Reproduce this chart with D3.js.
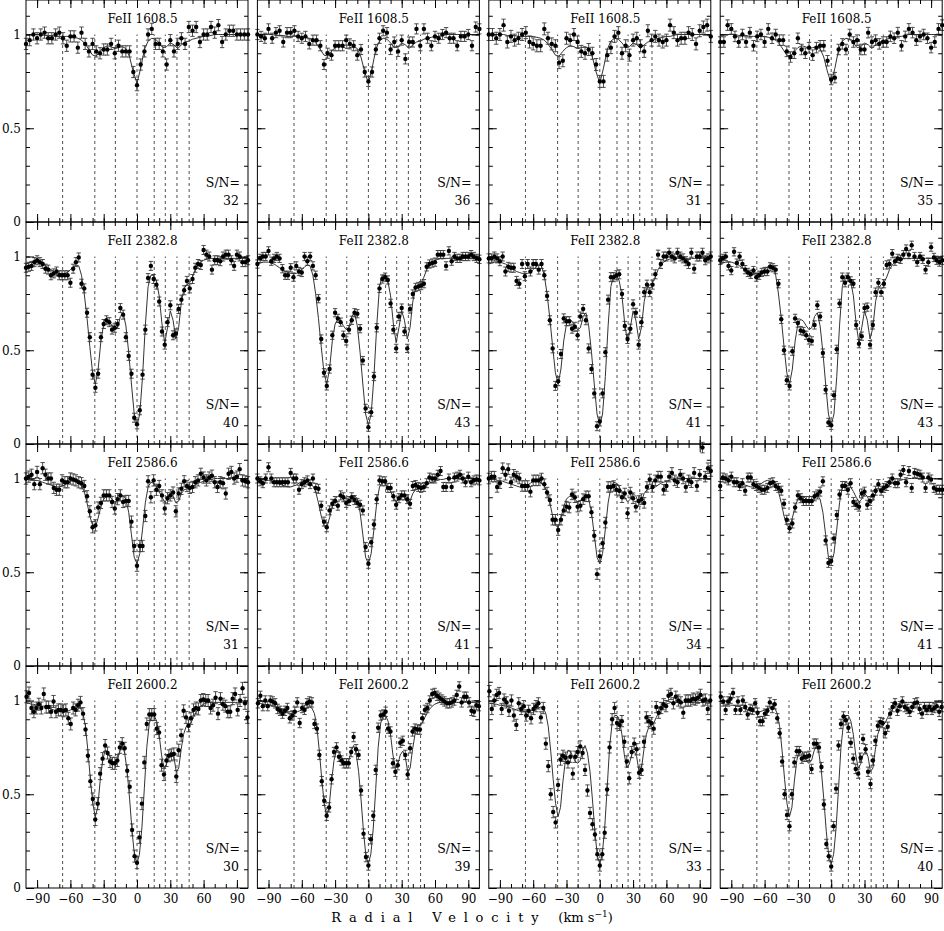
<!DOCTYPE html>
<html><head><meta charset="utf-8">
<script src="https://cdn.jsdelivr.net/npm/d3@7"></script>
<style>
body{margin:0;background:#fff}
svg{display:block}
text{font-family:"DejaVu Serif","Liberation Serif",serif;fill:#000}
</style>
</head><body>
<svg id="chart" width="944" height="931"></svg>
<script>
// ---------------- DATA ----------------
const transitions = ["FeII 1608.5", "FeII 2382.8", "FeII 2586.6", "FeII 2600.2"];
const components = [-67, -38, -19.5, 0, 15.5, 25.5, 36, 47];
const xMajorTicks = [-90, -60, -30, 0, 30, 60, 90];
const xMinorTicks = [-90, -80, -70, -60, -50, -40, -30, -20, -10, 0, 10, 20, 30, 40, 50, 60, 70, 80, 90];
const yMajorTicks = [0, 0.5, 1];
const yMinorTicks = [0, 0.1, 0.2, 0.3, 0.4, 0.5, 0.6, 0.7, 0.8, 0.9, 1, 1.1];

const sn1608 = [32, 36, 31, 35];
const sn2382 = [40, 43, 41, 43];
const sn2586 = [31, 41, 34, 41];
const sn2600 = [30, 39, 33, 40];

const err1608 = [0.030, 0.027, 0.032, 0.028];
const err2382 = [0.024, 0.022, 0.024, 0.022];
const err2586 = [0.030, 0.024, 0.028, 0.024];
const err2600 = [0.032, 0.025, 0.030, 0.025];

const vel1608 = [-100,-96.7,-93.3,-90,-86.7,-83.3,-80,-76.7,-73.3,-70,-66.7,-63.3,-60,-56.7,-53.3,-50,-46.7,-43.3,-40,-36.7,-33.3,-30,-26.7,-23.3,-20,-16.7,-13.3,-10,-6.7,-3.3,0,3.3,6.7,10,13.3,16.7,20,23.3,26.7,30,33.3,36.7,40,43.3,46.7,50,53.3,56.7,60,63.3,66.7,70,73.3,76.7,80,83.3,86.7,90,93.3,96.7,100];
const vel2382 = [-100,-97.5,-95,-92.5,-90,-87.5,-85,-82.5,-80,-77.5,-75,-72.5,-70,-67.5,-65,-62.5,-60,-57.5,-55,-52.5,-50,-47.5,-45,-42.5,-40,-37.5,-35,-32.5,-30,-27.5,-25,-22.5,-20,-17.5,-15,-12.5,-10,-7.5,-5,-2.5,0,2.5,5,7.5,10,12.5,15,17.5,20,22.5,25,27.5,30,32.5,35,37.5,40,42.5,45,47.5,50,52.5,55,57.5,60,62.5,65,67.5,70,72.5,75,77.5,80,82.5,85,87.5,90,92.5,95,97.5,100];
const vel2586 = vel2382;
const vel2600 = [-99.5,-97.3,-95.1,-92.9,-90.7,-88.4,-86.2,-84,-81.8,-79.6,-77.4,-75.2,-73,-70.8,-68.5,-66.3,-64.1,-61.9,-59.7,-57.5,-55.3,-53.1,-50.9,-48.6,-46.4,-44.2,-42,-39.8,-37.6,-35.4,-33.2,-31,-28.7,-26.5,-24.3,-22.1,-19.9,-17.7,-15.5,-13.3,-11.1,-8.8,-6.6,-4.4,-2.2,0,2.2,4.4,6.6,8.8,11.1,13.3,15.5,17.7,19.9,22.1,24.3,26.5,28.7,31,33.2,35.4,37.6,39.8,42,44.2,46.4,48.6,50.9,53.1,55.3,57.5,59.7,61.9,64.1,66.3,68.5,70.8,73,75.2,77.4,79.6,81.8,84,86.2,88.4,90.7,92.9,95.1,97.3,99.5];

// FeII 1608.5
const flux1608_1 = [0.95,0.97,1.00,0.98,1.00,1.01,0.98,0.98,1.00,1.01,0.98,0.94,0.99,0.99,0.93,1.01,0.95,0.91,0.95,0.91,0.90,0.92,0.92,0.95,0.90,0.94,0.91,0.91,0.91,0.80,0.73,0.84,0.91,1.00,1.03,0.95,0.95,0.91,0.84,0.97,0.91,0.95,0.98,0.95,1.04,1.02,1.04,0.96,1.00,1.00,1.04,1.01,1.05,0.96,1.00,1.02,1.02,1.00,1.00,1.00,1.00];
const flux1608_2 = [1.00,0.99,0.98,1.03,0.98,1.01,1.02,0.96,1.01,1.01,1.02,0.99,0.98,0.99,0.95,0.97,0.97,0.94,0.84,0.90,0.89,0.94,0.94,0.94,0.97,0.95,0.94,0.89,0.92,0.80,0.75,0.80,0.92,0.98,1.02,1.01,0.92,0.96,0.91,0.97,0.87,0.96,0.96,1.03,0.94,1.03,0.98,0.94,0.99,0.98,1.00,1.01,0.98,0.98,0.94,0.99,0.99,1.00,0.94,1.04,1.03];
const flux1608_3 = [1.00,1.00,0.98,1.00,1.05,0.96,0.99,0.97,0.98,1.00,1.01,0.96,0.95,0.94,0.94,1.03,0.98,0.95,0.94,0.85,0.86,0.98,0.97,1.00,0.96,0.91,0.90,0.92,0.90,0.84,0.75,0.75,0.89,0.93,0.99,1.01,0.90,0.94,0.89,0.97,0.98,0.94,0.91,1.02,0.97,0.99,0.97,0.96,0.97,1.05,1.01,0.97,0.98,0.98,1.01,1.00,0.95,1.02,1.04,1.05,0.99];
const flux1608_4 = [0.96,0.96,1.05,1.03,0.99,0.96,1.00,0.96,1.01,0.94,0.99,1.00,0.96,1.03,0.98,1.00,0.97,0.97,0.91,0.88,0.90,0.98,0.92,0.90,0.93,0.89,0.93,0.94,0.94,0.86,0.76,0.77,0.92,0.95,0.92,1.00,0.96,0.97,0.92,0.92,1.01,0.96,0.97,0.95,0.96,0.96,0.99,0.98,1.01,0.94,0.99,1.03,1.01,0.97,0.99,1.00,0.98,0.93,0.96,1.03,1.05];
const model1608 = [1.0,1.0,1.0,1.0,1.0,0.995,0.995,0.995,0.99,0.99,0.99,0.99,0.99,0.985,0.98,0.97,0.95,0.92,0.89,0.885,0.91,0.93,0.94,0.935,0.925,0.93,0.935,0.925,0.88,0.80,0.74,0.82,0.92,0.965,0.98,0.975,0.955,0.93,0.935,0.955,0.945,0.925,0.945,0.96,0.965,0.975,0.98,0.985,0.99,0.99,0.995,1.0,1.0,1.0,1.0,1.0,1.0,1.0,1.0,1.0,1.0];

// FeII 2382.8
const flux2382_1 = [0.94,0.945,0.95,0.97,0.98,0.97,0.96,0.935,0.93,0.90,0.91,0.92,0.90,0.90,0.90,0.90,0.86,0.935,0.97,0.995,0.855,0.83,0.70,0.57,0.37,0.30,0.375,0.57,0.64,0.66,0.65,0.61,0.62,0.64,0.725,0.69,0.57,0.47,0.375,0.14,0.105,0.18,0.37,0.61,0.885,0.95,0.88,0.85,0.76,0.60,0.53,0.65,0.74,0.58,0.59,0.72,0.77,0.82,0.87,0.83,0.88,0.94,0.96,0.955,1.035,1.01,1.0,0.93,0.98,0.98,0.975,1.0,1.01,1.01,0.98,0.95,1.01,1.0,0.97,0.97,0.98];
const flux2382_2 = [0.96,0.99,1.0,1.0,1.03,0.975,0.99,1.0,0.99,0.935,0.90,0.90,0.94,0.89,0.95,0.92,0.915,1.0,0.975,1.0,0.95,0.90,0.775,0.56,0.38,0.31,0.40,0.58,0.70,0.67,0.65,0.58,0.55,0.61,0.66,0.70,0.695,0.615,0.445,0.19,0.09,0.17,0.36,0.62,0.83,0.88,0.89,0.875,0.75,0.61,0.51,0.68,0.725,0.60,0.51,0.72,0.80,0.835,0.84,0.845,0.855,0.945,0.96,0.965,0.97,1.01,1.01,1.01,0.95,1.03,0.975,1.0,0.99,0.99,1.0,1.0,1.0,1.01,1.0,0.99,0.985];
const flux2382_3 = [0.99,0.99,1.0,0.99,0.975,1.0,0.92,0.945,0.94,0.94,0.87,0.855,0.96,0.895,0.96,0.92,0.96,0.96,0.93,0.96,0.90,0.79,0.66,0.51,0.31,0.335,0.48,0.67,0.655,0.655,0.615,0.625,0.58,0.68,0.72,0.66,0.51,0.40,0.27,0.095,0.12,0.27,0.49,0.77,0.89,0.89,0.90,0.905,0.80,0.63,0.56,0.615,0.745,0.70,0.53,0.65,0.81,0.85,0.81,0.85,0.905,1.01,0.96,1.0,1.0,1.02,1.0,0.99,1.02,1.0,0.99,0.975,0.96,1.02,0.935,1.0,1.0,1.02,0.98,0.99,1.0];
const flux2382_4 = [0.98,0.99,1.0,0.95,0.925,1.025,0.965,1.0,0.96,0.93,0.915,0.905,0.925,0.89,0.90,0.915,0.92,0.92,0.945,0.94,0.93,0.855,0.665,0.50,0.34,0.31,0.495,0.67,0.645,0.605,0.60,0.58,0.555,0.55,0.635,0.74,0.68,0.485,0.29,0.115,0.10,0.26,0.505,0.75,0.89,0.86,0.89,0.87,0.855,0.635,0.535,0.575,0.725,0.73,0.53,0.635,0.81,0.86,0.81,0.855,0.955,0.96,1.015,0.975,0.99,0.985,1.01,1.04,1.01,1.06,1.0,0.97,1.0,0.985,0.93,0.97,1.05,0.995,0.98,0.97,0.98];
const model2382 = [0.96,0.965,0.97,0.97,0.97,0.965,0.96,0.95,0.94,0.93,0.92,0.915,0.91,0.91,0.91,0.915,0.93,0.945,0.955,0.95,0.90,0.80,0.67,0.52,0.38,0.32,0.40,0.55,0.64,0.665,0.655,0.63,0.61,0.62,0.68,0.70,0.63,0.49,0.32,0.16,0.10,0.16,0.36,0.63,0.84,0.90,0.90,0.87,0.79,0.64,0.54,0.62,0.71,0.66,0.56,0.62,0.76,0.83,0.85,0.86,0.89,0.93,0.955,0.97,0.98,0.985,0.99,0.99,0.99,0.99,0.99,0.99,0.99,0.99,0.99,0.99,0.99,0.99,0.99,0.99,0.99];

// FeII 2586.6
const flux2586_1 = [1.0,1.01,1.02,0.97,1.035,0.97,1.055,1.02,1.0,1.0,0.95,0.94,0.94,0.99,0.98,0.98,1.0,0.995,0.99,0.98,0.975,0.96,0.905,0.825,0.74,0.75,0.845,0.87,0.91,0.91,0.91,0.875,0.84,0.89,0.91,0.875,0.88,0.88,0.77,0.64,0.535,0.64,0.64,0.80,0.985,0.90,0.99,0.94,0.96,0.91,0.84,0.895,0.91,0.925,0.825,0.92,0.945,0.985,0.96,0.95,0.955,0.98,0.99,1.025,1.005,0.99,1.005,1.015,0.98,0.955,0.98,0.975,0.92,1.025,1.035,1.0,1.01,1.05,0.99,0.985,0.98];
const flux2586_2 = [1.0,0.985,0.975,1.0,1.06,1.0,0.98,0.98,0.98,0.98,0.98,0.98,1.03,1.0,1.0,0.94,0.97,0.98,0.99,0.97,1.0,0.95,0.945,0.855,0.77,0.74,0.83,0.865,0.88,0.855,0.91,0.90,0.87,0.88,0.90,0.885,0.87,0.86,0.83,0.635,0.545,0.66,0.755,0.89,0.99,0.985,0.985,0.95,0.95,0.905,0.86,0.895,0.91,0.91,0.89,0.865,0.96,0.965,0.955,0.95,0.955,0.975,1.005,1.0,1.0,1.02,1.04,0.955,0.955,1.0,0.955,1.005,1.01,1.02,1.0,0.98,1.01,0.98,0.99,0.995,0.99];
const flux2586_3 = [1.0,1.01,1.01,0.955,0.975,1.055,1.02,1.05,0.98,1.02,1.01,1.0,0.96,0.96,0.96,0.93,0.99,0.99,0.99,1.0,0.97,0.925,0.885,0.78,0.78,0.725,0.78,0.83,0.85,0.845,0.915,0.90,0.85,0.855,0.89,0.905,0.905,0.82,0.695,0.49,0.585,0.655,0.765,0.955,0.955,0.96,0.94,0.935,0.90,0.92,0.815,0.925,0.895,0.85,0.88,0.89,0.87,0.955,0.995,0.955,0.99,1.01,1.01,0.94,0.96,1.01,1.03,0.99,0.98,1.02,1.0,0.955,0.99,0.98,1.03,0.96,1.02,1.165,1.01,1.055,1.04];
const flux2586_4 = [0.96,1.005,1.0,0.99,1.01,0.98,0.98,0.96,0.975,0.935,1.005,1.005,0.97,0.96,0.95,0.94,0.94,0.95,0.975,0.98,0.96,0.95,0.935,0.865,0.78,0.735,0.76,0.845,0.91,0.895,0.88,0.88,0.88,0.88,0.905,0.915,0.93,0.985,0.67,0.55,0.56,0.68,0.805,0.915,0.96,0.96,0.94,0.975,0.875,0.86,0.85,0.92,0.93,0.86,0.88,0.91,0.935,0.97,0.935,0.95,0.96,0.98,1.0,0.975,0.975,1.02,1.045,0.98,1.04,0.95,1.03,1.025,1.02,1.005,0.95,1.005,0.995,0.95,0.94,0.94,0.94];
const model2586 = [1.0,1.0,0.995,0.99,0.99,0.985,0.98,0.975,0.97,0.965,0.96,0.955,0.955,0.96,0.965,0.975,0.985,0.99,0.985,0.975,0.96,0.93,0.87,0.80,0.75,0.74,0.79,0.85,0.89,0.905,0.905,0.89,0.875,0.88,0.90,0.91,0.89,0.82,0.70,0.58,0.545,0.60,0.73,0.87,0.955,0.98,0.975,0.955,0.93,0.90,0.875,0.89,0.92,0.905,0.87,0.88,0.92,0.94,0.945,0.95,0.955,0.965,0.975,0.98,0.985,0.99,0.995,0.995,1.0,1.0,1.0,1.0,1.0,1.0,1.0,1.0,1.0,1.0,1.0,1.0,1.0];

// FeII 2600.2
const flux2600_1 = [1.02,1.04,0.96,0.94,0.96,0.98,0.96,1.035,0.965,0.965,0.94,0.995,0.94,0.95,0.95,0.945,0.95,0.905,0.875,0.96,0.95,0.975,0.99,0.93,0.845,0.705,0.57,0.475,0.365,0.45,0.61,0.69,0.76,0.72,0.675,0.665,0.665,0.68,0.75,0.77,0.745,0.625,0.54,0.31,0.17,0.135,0.27,0.45,0.67,0.875,0.925,0.925,0.925,0.85,0.83,0.655,0.605,0.68,0.705,0.71,0.715,0.595,0.735,0.815,0.945,0.91,0.865,0.905,0.95,0.96,0.955,1.0,1.005,1.0,1.0,0.96,0.975,1.015,0.93,1.01,0.98,0.97,0.94,0.94,1.01,1.035,0.95,1.0,1.065,0.985,0.91];
const flux2600_2 = [0.985,1.025,0.97,1.0,0.97,1.0,0.995,0.985,0.955,0.945,0.93,0.945,0.96,0.905,0.92,0.94,0.99,0.88,0.96,0.95,0.985,0.995,0.99,0.875,0.85,0.71,0.57,0.465,0.385,0.43,0.58,0.725,0.75,0.70,0.68,0.665,0.665,0.665,0.725,0.805,0.74,0.71,0.52,0.29,0.165,0.12,0.26,0.385,0.63,0.855,0.92,0.925,0.94,0.85,0.835,0.665,0.62,0.655,0.775,0.785,0.71,0.605,0.745,0.835,0.85,0.845,0.845,0.905,0.95,0.96,1.0,1.035,1.04,1.025,1.015,1.005,0.995,0.985,0.985,0.99,1.0,1.03,1.075,0.99,1.02,1.02,0.99,0.945,0.94,0.975,0.97];
const flux2600_3 = [1.05,0.955,1.0,1.03,1.04,0.955,1.005,0.99,0.945,1.0,0.92,0.87,0.985,0.955,0.97,0.92,0.945,0.905,0.955,0.97,0.985,0.91,0.96,0.77,0.65,0.50,0.405,0.35,0.55,0.685,0.705,0.695,0.67,0.70,0.61,0.70,0.725,0.755,0.72,0.63,0.52,0.40,0.34,0.285,0.18,0.12,0.18,0.295,0.525,0.75,0.90,0.96,0.88,0.87,0.89,0.78,0.675,0.585,0.725,0.77,0.74,0.615,0.63,0.78,0.91,0.89,0.88,0.85,0.965,0.935,0.96,0.98,0.97,1.025,1.035,0.985,1.02,1.0,0.99,0.935,1.0,1.0,1.0,1.01,1.005,1.015,1.03,1.0,1.005,0.955,1.0];
const flux2600_4 = [1.02,0.995,0.95,0.995,1.01,1.04,0.95,0.995,0.95,1.0,0.965,0.925,0.955,0.95,0.985,0.935,0.89,0.89,0.93,0.945,0.99,0.96,0.98,0.905,0.825,0.675,0.50,0.39,0.33,0.50,0.67,0.73,0.73,0.69,0.70,0.70,0.705,0.635,0.77,0.77,0.75,0.645,0.445,0.235,0.17,0.115,0.33,0.53,0.76,0.875,0.915,0.895,0.855,0.775,0.69,0.635,0.61,0.695,0.795,0.74,0.62,0.555,0.68,0.785,0.865,0.885,0.88,0.825,0.86,0.93,0.965,0.985,0.945,0.97,0.995,0.965,0.955,0.94,0.965,0.985,0.99,0.955,0.93,0.965,0.95,0.965,0.95,0.96,0.97,0.94,0.965];
const model2600 = [0.985,0.985,0.98,0.98,0.975,0.975,0.97,0.97,0.965,0.96,0.955,0.95,0.945,0.94,0.94,0.94,0.94,0.945,0.95,0.955,0.96,0.965,0.96,0.93,0.86,0.73,0.58,0.45,0.38,0.43,0.57,0.68,0.735,0.73,0.70,0.675,0.665,0.68,0.73,0.76,0.72,0.62,0.47,0.30,0.17,0.13,0.18,0.32,0.53,0.75,0.88,0.92,0.92,0.89,0.82,0.71,0.64,0.66,0.71,0.73,0.70,0.62,0.64,0.74,0.82,0.86,0.87,0.88,0.91,0.935,0.955,0.97,0.98,0.985,0.99,0.99,0.99,0.99,0.99,0.99,0.99,0.99,0.99,0.99,0.99,0.99,0.99,0.99,0.99,0.99,0.99];

// ---------------- ASSEMBLY ----------------
const rows = [
  {name: transitions[0], vel: vel1608, flux: [flux1608_1, flux1608_2, flux1608_3, flux1608_4], model: model1608, sn: sn1608, err: err1608},
  {name: transitions[1], vel: vel2382, flux: [flux2382_1, flux2382_2, flux2382_3, flux2382_4], model: model2382, sn: sn2382, err: err2382},
  {name: transitions[2], vel: vel2586, flux: [flux2586_1, flux2586_2, flux2586_3, flux2586_4], model: model2586, sn: sn2586, err: err2586},
  {name: transitions[3], vel: vel2600, flux: [flux2600_1, flux2600_2, flux2600_3, flux2600_4], model: model2600, sn: sn2600, err: err2600}
];

const svg = d3.select("#chart");
const PW = 222, PH = 222;
const colLeft = [26, 257.4, 488.8, 720.2];
const rowTop = [0, 222, 444, 666];

const x = d3.scaleLinear().domain([-100, 100]).range([0, PW]);
const y = d3.scaleLinear().domain([0, 1]).range([PH, PH - 187.5]);

function styleAxis(sel) {
  sel.select(".domain").remove();
  sel.selectAll(".tick line").attr("stroke", "#000").attr("stroke-width", 1);
  sel.selectAll(".tick text").attr("font-family", "DejaVu Serif, serif").attr("font-size", 12).attr("fill", "#000");
}

rows.forEach((row, r) => {
  row.flux.forEach((flux, c) => {
    const g = svg.append("g").attr("transform", `translate(${colLeft[c]},${rowTop[r]})`);
    const lastRow = r === rows.length - 1;
    const firstCol = c === 0;

    // component markers
    g.append("g").selectAll("line").data(components).join("line")
      .attr("x1", d => x(d)).attr("x2", d => x(d))
      .attr("y1", y(0)).attr("y2", y(1))
      .attr("stroke", "#222").attr("stroke-width", 0.8)
      .attr("stroke-dasharray", "3,3");

    const pts = row.vel.map((v, i) => ({v, f: flux[i]})).filter(d => d.f != null);
    const e = row.err[c];

    // error bars
    const eb = g.append("g").attr("stroke", "#3a3a3a").attr("stroke-width", 0.9);
    eb.selectAll("line.v").data(pts).join("line").attr("class", "v")
      .attr("x1", d => x(d.v)).attr("x2", d => x(d.v))
      .attr("y1", d => y(d.f - e)).attr("y2", d => y(d.f + e));
    eb.selectAll("line.t").data(pts).join("line").attr("class", "t")
      .attr("x1", d => x(d.v) - 2.2).attr("x2", d => x(d.v) + 2.2)
      .attr("y1", d => y(d.f + e)).attr("y2", d => y(d.f + e));
    eb.selectAll("line.b").data(pts).join("line").attr("class", "b")
      .attr("x1", d => x(d.v) - 2.2).attr("x2", d => x(d.v) + 2.2)
      .attr("y1", d => y(d.f - e)).attr("y2", d => y(d.f - e));

    // model line
    const line = d3.line().x((d, i) => x(row.vel[i])).y(d => y(d));
    g.append("path").datum(row.model).attr("d", line)
      .attr("fill", "none").attr("stroke", "#333").attr("stroke-width", 1);

    // points
    g.append("g").selectAll("circle").data(pts).join("circle")
      .attr("cx", d => x(d.v)).attr("cy", d => y(d.f)).attr("r", 2.2).attr("fill", "#000");

    // frame
    g.append("rect").attr("x", 0).attr("y", 0).attr("width", PW).attr("height", PH)
      .attr("fill", "none").attr("stroke", "#000").attr("stroke-width", 1);

    // axes (inward ticks)
    g.append("g").attr("transform", `translate(0,${PH})`)
      .call(d3.axisBottom(x).tickValues(xMinorTicks).tickSizeInner(-4).tickSizeOuter(0).tickFormat(""))
      .call(styleAxis);
    g.append("g").attr("transform", `translate(0,${PH})`)
      .call(d3.axisBottom(x).tickValues(xMajorTicks).tickSizeInner(-8).tickSizeOuter(0).tickPadding(6)
        .tickFormat(lastRow ? d3.format("d") : ""))
      .call(styleAxis);
    g.append("g")
      .call(d3.axisTop(x).tickValues(xMinorTicks).tickSizeInner(-4).tickSizeOuter(0).tickFormat(""))
      .call(styleAxis);
    g.append("g")
      .call(d3.axisTop(x).tickValues(xMajorTicks).tickSizeInner(-8).tickSizeOuter(0).tickFormat(""))
      .call(styleAxis);
    g.append("g")
      .call(d3.axisLeft(y).tickValues(yMinorTicks).tickSizeInner(-4).tickSizeOuter(0).tickFormat(""))
      .call(styleAxis);
    g.append("g")
      .call(d3.axisLeft(y).tickValues(yMajorTicks).tickSizeInner(-8).tickSizeOuter(0).tickPadding(5)
        .tickFormat(firstCol ? d3.format("~g") : ""))
      .call(styleAxis);
    g.append("g").attr("transform", `translate(${PW},0)`)
      .call(d3.axisRight(y).tickValues(yMinorTicks).tickSizeInner(-4).tickSizeOuter(0).tickFormat(""))
      .call(styleAxis);
    g.append("g").attr("transform", `translate(${PW},0)`)
      .call(d3.axisRight(y).tickValues(yMajorTicks).tickSizeInner(-8).tickSizeOuter(0).tickFormat(""))
      .call(styleAxis);

    // labels
    g.append("text").attr("x", x(0) + 5.5).attr("y", 22.5).attr("text-anchor", "middle")
      .attr("font-size", 12).text(row.name);
    g.append("text").attr("x", PW - 8).attr("y", 186.5).attr("text-anchor", "end")
      .attr("font-size", 12.5).text("S/N=");
    g.append("text").attr("x", PW - 9).attr("y", 204.5).attr("text-anchor", "end")
      .attr("font-size", 12.5).text(row.sn[c]);
  });
});

// x-axis title
const title = svg.append("text").attr("x", 472).attr("y", 922).attr("text-anchor", "middle")
  .attr("font-size", 13);
title.append("tspan").attr("letter-spacing", "7.8px").text("Radial Velocity ");
title.append("tspan").text(" (km s");
title.append("tspan").attr("dy", -5).attr("font-size", 9).text("−1");
title.append("tspan").attr("dy", 5).text(")");
</script>
</body></html>
